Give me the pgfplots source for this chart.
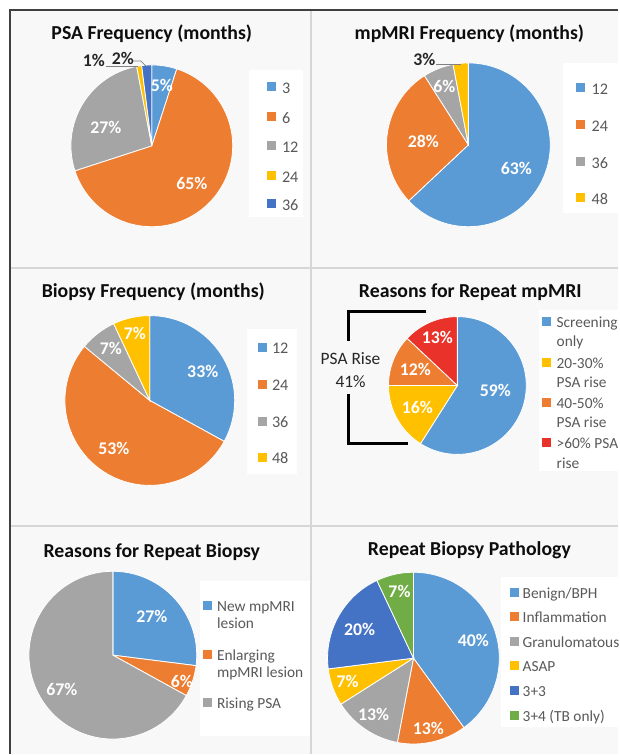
\documentclass[border=0pt]{standalone}
\usepackage{pgfplots}
\pgfplotsset{compat=1.18}
\usepackage{pgfplotstable}
\usepackage{fontspec}
\setmainfont{Carlito}

\definecolor{cBlue}{HTML}{5B9BD5}
\definecolor{cOrange}{HTML}{ED7D31}
\definecolor{cGray}{HTML}{A5A5A5}
\definecolor{cYellow}{HTML}{FFC000}
\definecolor{cDBlue}{HTML}{4472C4}
\definecolor{cGreen}{HTML}{70AD47}
\definecolor{cRed}{HTML}{E8322A}
\definecolor{bgc}{HTML}{F8F8F8}
\definecolor{divider}{HTML}{D6D6D6}
\definecolor{legtxt}{HTML}{595959}
\definecolor{lbldark}{HTML}{262626}

% value, colour, label position (px), label colour
\pgfplotstableread{
v c lx ly lc
5 cBlue 162 85 white
65 cOrange 192 183 white
27 cGray 106 127 white
1 cYellow 94 60 lbldark
2 cDBlue 123 58 lbldark
}\tabPSA

\pgfplotstableread{
v c lx ly lc
63 cBlue 517 168 white
28 cOrange 424 141 white
6 cGray 445 86 white
3 cYellow 425 59 lbldark
}\tabMRI

\pgfplotstableread{
v c lx ly lc
33 cBlue 203 372 white
53 cOrange 114 449 white
7 cGray 111 349 white
7 cYellow 135 334 white
}\tabBx

\pgfplotstableread{
v c lx ly lc
59 cBlue 496 391 white
16 cYellow 418 408 white
12 cOrange 416 370 white
13 cRed 438 338 white
}\tabWhyMRI

\pgfplotstableread{
v c lx ly lc
27 cBlue 152 617 white
6 cOrange 182 682 white
67 cGray 62 690 white
}\tabWhyBx

\pgfplotstableread{
v c lx ly lc
40 cBlue 474 641 white
13 cOrange 429 729 white
13 cGray 374 715 white
7 cYellow 348 682 white
20 cDBlue 360 630 white
7 cGreen 400 592 white
}\tabPath

% #1 table, #2 cx, #3 cy, #4 radius (px)
\newcommand\drawpie[4]{%
  \pgfplotstablegetrowsof{#1}%
  \pgfmathtruncatemacro\nr{\pgfplotsretval-1}%
  \gdef\curang{90}%
  \foreach \i in {0,...,\nr}{%
    \pgfplotstablegetelem{\i}{v}\of{#1}\let\val\pgfplotsretval
    \pgfplotstablegetelem{\i}{c}\of{#1}\let\col\pgfplotsretval
    \pgfmathsetmacro\endang{\curang-3.6*\val}%
    \edef\temp{\noexpand\fill[\col,draw=white,line width=0.4pt] (axis cs:#2,#3) -- ++(\curang:#4*0.5pt) arc[start angle=\curang,end angle=\endang,radius=#4*0.5pt] -- cycle;}%
    \temp
    \global\let\curang\endang
  }%
  \foreach \i in {0,...,\nr}{%
    \pgfplotstablegetelem{\i}{v}\of{#1}\let\val\pgfplotsretval
    \pgfplotstablegetelem{\i}{lx}\of{#1}\let\lx\pgfplotsretval
    \pgfplotstablegetelem{\i}{ly}\of{#1}\let\ly\pgfplotsretval
    \pgfplotstablegetelem{\i}{lc}\of{#1}\let\lc\pgfplotsretval
    \edef\temp{\noexpand\node[lbl,text=\lc] at (axis cs:\lx,\ly) {\val\noexpand\%};}%
    \temp
  }%
}

\tikzset{
  lbl/.style={inner sep=0pt,font=\fontsize{8.9}{10}\selectfont\bfseries,text height=0.63em,text depth=0pt},
  ttl/.style={inner sep=0pt,font=\fontsize{9.9}{12}\selectfont\bfseries,text height=0.64em,text depth=0pt,text=black!95},
  lgA/.style={inner sep=0pt,anchor=west,font=\fontsize{8.1}{10}\selectfont,text height=0.64em,text depth=0pt,text=legtxt},
  lgB/.style={inner sep=0pt,anchor=west,font=\fontsize{7.7}{10}\selectfont,text height=0.64em,text depth=0pt,text=legtxt},
}
\newcommand\sq[3]{\fill[#3] (axis cs:#1-4.5,#2-4.5) rectangle (axis cs:#1+4.5,#2+4.5);}

\begin{document}
\begin{tikzpicture}
\begin{axis}[at={(0,0)},anchor=south west,x=0.5pt,y=0.5pt,scale only axis,
  xmin=0,xmax=619,ymin=0,ymax=755,y dir=reverse,hide axis,clip=false]
% background and frame
\fill[white] (axis cs:0,0) rectangle (axis cs:619,755);
\fill[bgc] (axis cs:10,10) rectangle (axis cs:619,755);
\draw[divider,line width=1pt] (axis cs:311.5,10) -- (axis cs:311.5,755);
\draw[divider,line width=1pt] (axis cs:10,268) -- (axis cs:619,268);
\draw[divider,line width=1pt] (axis cs:10,527) -- (axis cs:619,527);
\draw[black!75,line width=0.8pt] (axis cs:10,755) -- (axis cs:10,10) -- (axis cs:619,10);

% legend boxes
\fill[white] (axis cs:249,70) rectangle (axis cs:303,217);
\fill[white] (axis cs:564,63) rectangle (axis cs:619,213);
\fill[white] (axis cs:247,329) rectangle (axis cs:297,475);
\fill[white] (axis cs:540,310) rectangle (axis cs:619,472);
\fill[white] (axis cs:200,582) rectangle (axis cs:310,737);
\fill[white] (axis cs:502,578) rectangle (axis cs:619,728);

% titles
\node[ttl] at (axis cs:152,33) {PSA Frequency (months)};
\node[ttl] at (axis cs:470,33) {mpMRI Frequency (months)};
\node[ttl] at (axis cs:153.5,291) {Biopsy Frequency (months)};
\node[ttl] at (axis cs:471,291) {Reasons for Repeat mpMRI};
\node[ttl] at (axis cs:152,552) {Reasons for Repeat Biopsy};
\node[ttl] at (axis cs:470,550) {Repeat Biopsy Pathology};

% pies
\drawpie{\tabPSA}{152}{146}{81}
\drawpie{\tabMRI}{469}{145}{82}
\drawpie{\tabBx}{150}{401}{85}
\drawpie{\tabWhyMRI}{458}{386}{69}
\drawpie{\tabWhyBx}{113}{656}{84}
\drawpie{\tabPath}{414}{659}{86}

% leader lines
\draw[gray,line width=0.4pt] (axis cs:106,66) -- (axis cs:138,66);
\draw[gray,line width=0.4pt] (axis cs:133,61) -- (axis cs:141,61) -- (axis cs:146,66);
\draw[gray,line width=0.4pt] (axis cs:437,64) -- (axis cs:462,64);

% bracket
\draw[black,line width=1.2pt] (axis cs:427,312) -- (axis cs:349,312) -- (axis cs:349,341);
\draw[black,line width=1.2pt] (axis cs:349,395) -- (axis cs:349,444) -- (axis cs:409,444);
\node[inner sep=0pt,font=\fontsize{8.7}{10}\selectfont,text height=0.64em,text depth=0pt,text=lbldark] at (axis cs:351,359) {PSA Rise};
\node[inner sep=0pt,font=\fontsize{8.7}{10}\selectfont,text height=0.64em,text depth=0pt,text=lbldark] at (axis cs:351,382) {41\%};

% legends
\sq{271.5}{87}{cBlue}\node[lgA] at (axis cs:282,87) {3};
\sq{271.5}{117}{cOrange}\node[lgA] at (axis cs:282,117) {6};
\sq{271.5}{146}{cGray}\node[lgA] at (axis cs:282,146) {12};
\sq{271.5}{176}{cYellow}\node[lgA] at (axis cs:282,176) {24};
\sq{271.5}{204}{cDBlue}\node[lgA] at (axis cs:282,204) {36};

\sq{581}{88}{cBlue}\node[lgA] at (axis cs:592,88) {12};
\sq{581}{125}{cOrange}\node[lgA] at (axis cs:592,125) {24};
\sq{581}{162}{cGray}\node[lgA] at (axis cs:592,162) {36};
\sq{581}{198}{cYellow}\node[lgA] at (axis cs:592,198) {48};

\sq{263}{348}{cBlue}\node[lgA] at (axis cs:272,348) {12};
\sq{263}{385}{cOrange}\node[lgA] at (axis cs:272,385) {24};
\sq{263}{422}{cGray}\node[lgA] at (axis cs:272,422) {36};
\sq{263}{458}{cYellow}\node[lgA] at (axis cs:272,458) {48};

\sq{547}{322}{cBlue}\node[lgB] at (axis cs:557,322) {Screening};
\node[lgB] at (axis cs:557,341) {only};
\sq{547}{363}{cYellow}\node[lgB] at (axis cs:557,363) {20-30\%};
\node[lgB] at (axis cs:557,382) {PSA rise};
\sq{547}{403}{cOrange}\node[lgB] at (axis cs:557,403) {40-50\%};
\node[lgB] at (axis cs:557,422) {PSA rise};
\sq{547}{443}{cRed}\node[lgB] at (axis cs:557,443) {>60\% PSA};
\node[lgB] at (axis cs:557,463) {rise};

\sq{207.5}{606}{cBlue}\node[lgB] at (axis cs:217,606) {New mpMRI};
\node[lgB] at (axis cs:217,623) {lesion};
\sq{207.5}{655}{cOrange}\node[lgB] at (axis cs:217,655) {Enlarging};
\node[lgB] at (axis cs:217,672) {mpMRI lesion};
\sq{207.5}{703}{cGray}\node[lgB] at (axis cs:217,703) {Rising PSA};

\sq{515.5}{593}{cBlue}\node[lgB] at (axis cs:523,593) {Benign/BPH};
\sq{515.5}{617}{cOrange}\node[lgB] at (axis cs:523,617) {Inflammation};
\sq{515.5}{642}{cGray}\node[lgB] at (axis cs:523,642) {Granulomatous};
\sq{515.5}{666}{cYellow}\node[lgB] at (axis cs:523,666) {ASAP};
\sq{515.5}{691}{cDBlue}\node[lgB] at (axis cs:523,691) {3+3};
\sq{515.5}{716}{cGreen}\node[lgB] at (axis cs:523,716) {3+4 (TB only)};
\end{axis}
\end{tikzpicture}
\end{document}
